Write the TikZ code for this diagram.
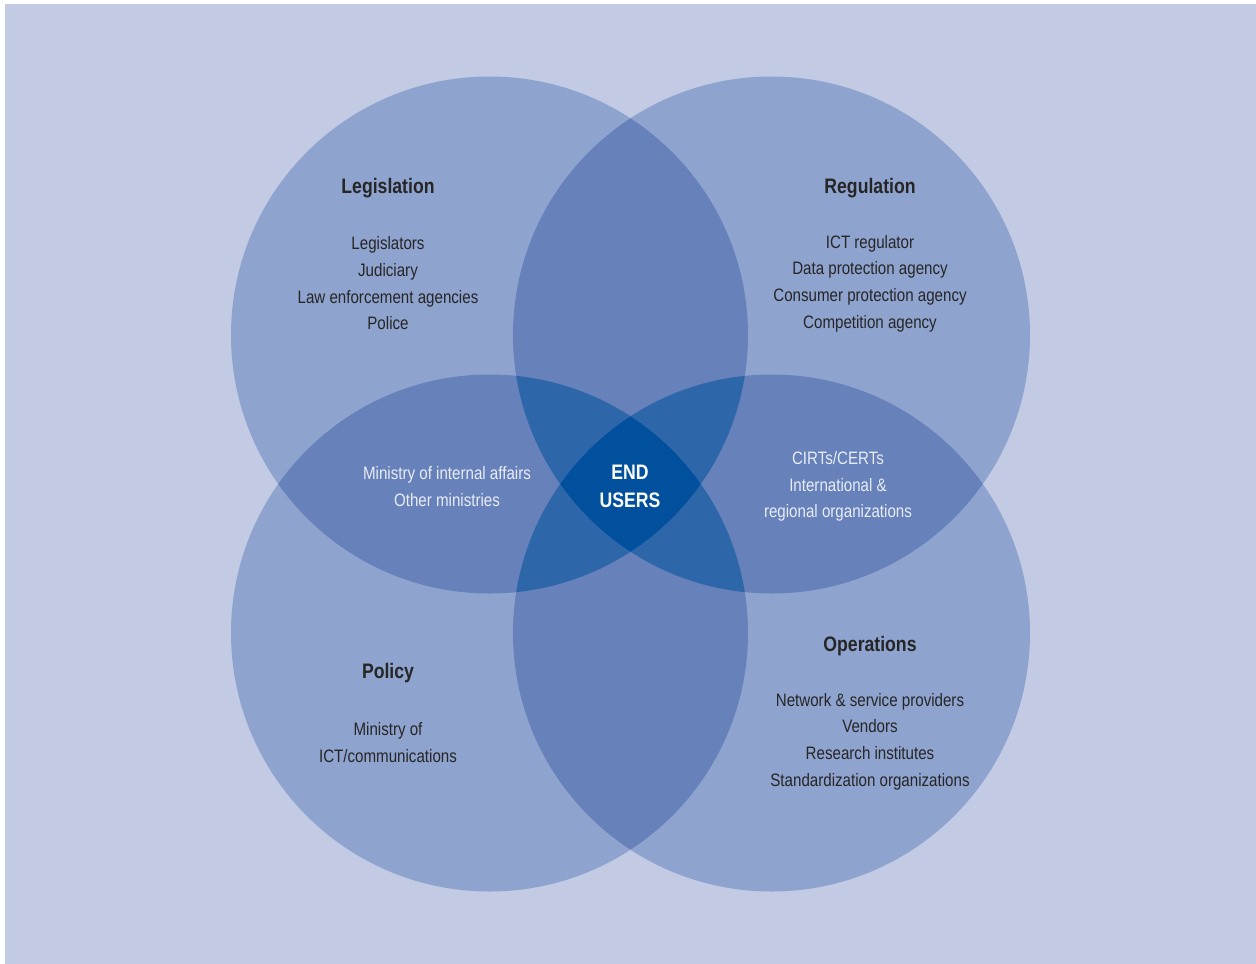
\documentclass[tikz,border=0pt]{standalone}
\usepackage{fontspec}
\setmainfont{Liberation Sans}[FakeStretch=0.84]
\definecolor{bgblue}{HTML}{C2CAE4}
\definecolor{oneblue}{HTML}{8FA3CF}
\definecolor{twoblue}{HTML}{6781BA}
\definecolor{threeblue}{HTML}{2E67A9}
\definecolor{fourblue}{HTML}{00509D}
\definecolor{darktext}{HTML}{262626}
\definecolor{lighttext}{HTML}{E8ECF6}
\begin{document}
\begin{tikzpicture}[x=1pt,y=-1pt,
  title/.style={font=\fontsize{21}{25}\selectfont\bfseries,text=darktext},
  items/.style={font=\fontsize{18}{26.7}\selectfont,align=center,text=darktext},
  initems/.style={items,text=lighttext},
  core/.style={font=\fontsize{21}{28}\selectfont\bfseries,align=center,text=white}]
\fill[white] (0,0) rectangle (1256,964);
\fill[bgblue] (5,4) rectangle (1256,964);
\def\rad{258.5pt}
\coordinate (tl) at (489.5,335);
\coordinate (tr) at (771.5,335);
\coordinate (bl) at (489.5,633);
\coordinate (br) at (771.5,633);
% one circle
\foreach \c in {tl,tr,bl,br}
  \fill[oneblue] (\c) circle (\rad);
% two circles
\foreach \a/\b in {tl/tr,tl/bl,tl/br,tr/bl,tr/br,bl/br}{
  \begin{scope}
    \clip (\a) circle (\rad);
    \fill[twoblue] (\b) circle (\rad);
  \end{scope}}
% three circles
\foreach \a/\b/\c in {tl/tr/bl,tl/tr/br,tl/bl/br,tr/bl/br}{
  \begin{scope}
    \clip (\a) circle (\rad);
    \clip (\b) circle (\rad);
    \fill[threeblue] (\c) circle (\rad);
  \end{scope}}
% all four
\begin{scope}
  \clip (tl) circle (\rad);
  \clip (tr) circle (\rad);
  \clip (bl) circle (\rad);
  \fill[fourblue] (br) circle (\rad);
\end{scope}
% texts
\node[title] (legis) at (388,188) {Legislation};
\node[items] (legisitems) at (388,283.5) {Legislators\\Judiciary\\Law enforcement agencies\\Police};
\node[title] (regul) at (870,188) {Regulation};
\node[items] (regulitems) at (870,283.5) {ICT regulator\\Data protection agency\\Consumer protection agency\\Competition agency};
\node[initems] (ministries) at (447,486.5) {Ministry of internal affairs\\Other ministries};
\node[core] (endusers) at (630,486) {END\\USERS};
\node[initems] (cirts) at (838,486.5) {CIRTs/CERTs\\International \&\\regional organizations};
\node[title] (policy) at (388,673) {Policy};
\node[items] (policyitems) at (388,742.5) {Ministry of\\ICT/communications};
\node[title] (oper) at (870,646) {Operations};
\node[items] (operitems) at (870,741.5) {Network \& service providers\\Vendors\\Research institutes\\Standardization organizations};
\end{tikzpicture}
\end{document}
